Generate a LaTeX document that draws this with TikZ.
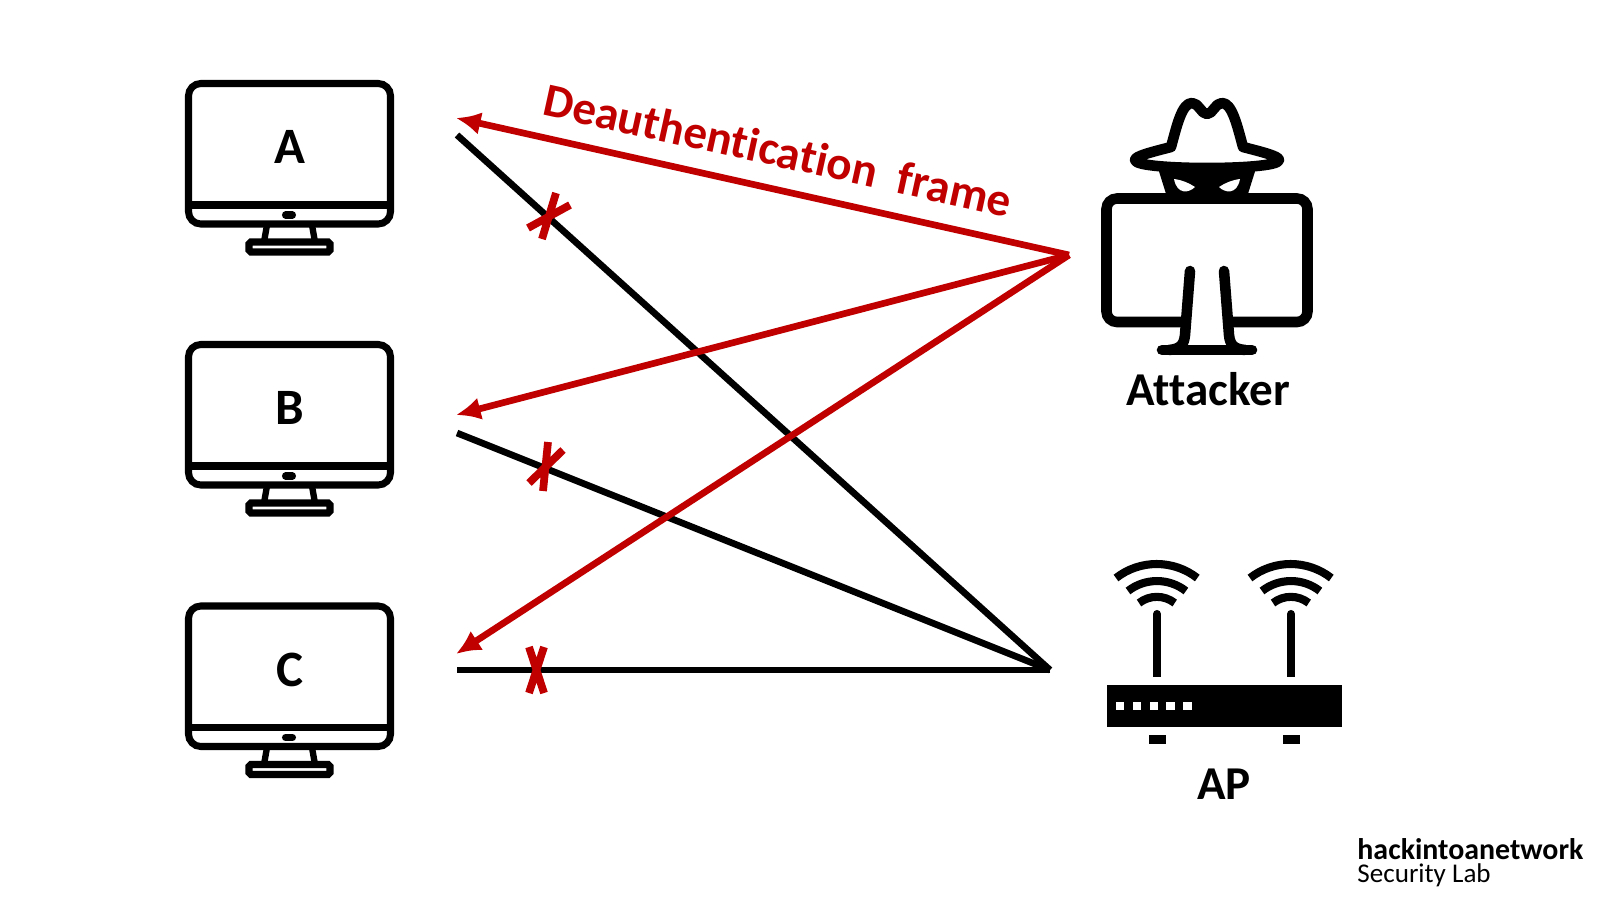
\documentclass[tikz,border=0pt]{standalone}
\usepackage{fontspec}
\setmainfont[Ligatures=NoCommon]{Carlito}
\usepackage{xcolor}
\usetikzlibrary{arrows.meta}
\definecolor{frameRed}{RGB}{192,0,0}
\tikzset{
  every link/.style={line width=1.9pt,line cap=butt},
  black link/.style={every link/.try,draw=black},
  red link/.style={every link/.try,draw=frameRed,-{Latex[length=7pt,width=6.5pt]}},
  cross/.style={draw=frameRed,line width=2.2pt},
  pc label/.style={font=\bfseries\fontsize{14.5}{16}\selectfont},
  name label/.style={font=\bfseries\fontsize{13.4}{16}\selectfont},
  pics/monitor/.style={
    code={
      \draw[line width=2pt,rounded corners=3.5pt] (-100.5,-63.5) rectangle (101.5,77);
      \draw[line width=2pt] (-100.5,58) -- (101.5,58);
      \draw[line width=2pt,line cap=round] (-3.5,68) -- (3.5,68);
      \draw[line width=1.8pt] (-22,78) -- (-25,95) (23,78) -- (26,95);
      \draw[line width=2pt,rounded corners=0.5pt] (-40,95) rectangle (41,105);
      \node[pc label] (-screen) at (1,0) {#1};
    }
  },
}
\begin{document}
\begin{tikzpicture}[x=0.01cm,y=-0.01cm]
\useasboundingbox (0,0) rectangle (1603,900);
% computers
\foreach \k/\y in {A/147,B/408,C/669.5}
  \pic (pc\k) at (289,\y) {monitor=\k};
% attacker
\begin{scope}[shift={(1207,0)}]
  \draw[line width=3pt,rounded corners=3pt] (-26,322) -- (-100.5,322) -- (-100.5,198.5) -- (100.5,198.5) -- (100.5,322) -- (26,322);
  \fill[white] (-17,272) -- (17,272) -- (22,349) -- (-22,349) -- cycle;
  \draw[line width=3pt,line cap=round,line join=round] (-17,271) -- (-22,335) .. controls (-23,345) and (-27,349) .. (-38,350) (17,271) -- (22,335) .. controls (23,345) and (27,349) .. (38,350);
  \draw[line width=3pt,line cap=round] (-45,350) -- (45,350);
  \fill (-50,165) -- (50,165) -- (40,197) -- (-40,197) -- cycle;
  \fill[white] (-33,179) .. controls (-25,180) and (-18,183) .. (-12,187) .. controls (-18,193) and (-30,195) .. (-33,179);
  \fill[white] (33,179) .. controls (25,180) and (18,183) .. (12,187) .. controls (18,193) and (30,195) .. (33,179);
  \draw[line width=3pt,line join=round,fill=white] (-36,147) .. controls (-30,125) and (-25,103) .. (-15,103) .. controls (-8,103) and (-6,114) .. (0,114) .. controls (6,114) and (8,103) .. (15,103) .. controls (25,103) and (30,125) .. (36,147) .. controls (55,152) and (72,156) .. (72,160) .. controls (72,166) and (30,168) .. (0,168) .. controls (-30,168) and (-72,166) .. (-72,160) .. controls (-72,156) and (-55,152) .. (-36,147) -- cycle;
\end{scope}
\node[name label] (attacker) at (1208,389) {Attacker};
% access point
\fill (1107,685) rectangle (1342,727);
\foreach \i in {0,...,4}
  \fill[white] (1116+\i*16.8,702) rectangle +(8.4,8.4);
\foreach \x in {1157,1291}
{
  \draw[line width=2.3pt,line cap=round] (\x,614) -- (\x,660);
  \draw[line width=2.3pt] (\x,660) -- (\x,677);
  \fill (\x-8.5,735) rectangle (\x+8.5,744);
  \draw[line width=2.3pt] (\x-41,578) arc[start angle=-128,end angle=-52,radius=66];
  \draw[line width=2.3pt] (\x-29,591) arc[start angle=-128,end angle=-52,radius=47];
  \draw[line width=2.3pt] (\x-18,603) arc[start angle=-128,end angle=-52,radius=29];
}
\node[name label] (ap) at (1224,784) {AP};
% end points
\coordinate (redFrom) at (1069,255);
\coordinate (redA) at (456,118);
\coordinate (redB) at (456,415);
\coordinate (redC) at (456,654);
\coordinate (apHub) at (1050,670);
\coordinate (blackA) at (457,135);
\coordinate (blackB) at (457,433);
\coordinate (blackC) at (457,670);
\draw[black link] (apHub) -- (blackA);
\draw[black link] (apHub) -- (blackB);
\draw[black link] (apHub) -- (blackC);
\draw[red link] (redFrom) -- (redA);
\draw[red link] (redFrom) -- (redB);
\draw[red link] (redFrom) -- (redC);
% crosses
\draw[cross] (556,193) -- (542,239) (570,205) -- (528,228);
\draw[cross] (548,442) -- (543,491) (563,450) -- (529,483);
\draw[cross] (529,647) -- (544,693) (544,647) -- (529,693);
\node[font=\bfseries\fontsize{13.4}{16}\selectfont,text=frameRed,rotate=-12.4,inner sep=0pt] (frameLabel) at (778,150) {Deauthentication\ \ frame};
\node[anchor=west,font=\bfseries\fontsize{8.5}{9}\selectfont] (brand) at (1345,849) {hackintoanetwork};
\node[anchor=west,font=\fontsize{7.7}{9}\selectfont,inner ysep=0pt] (lab) at (1345,875) {Security Lab};
\end{tikzpicture}
\end{document}
